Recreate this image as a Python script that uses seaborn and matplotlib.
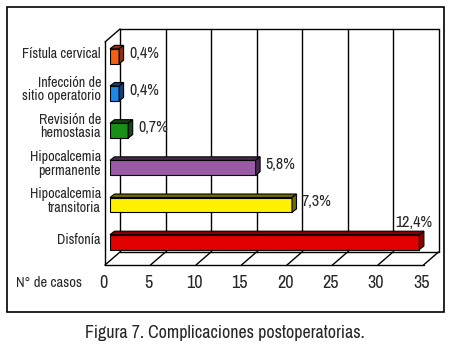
import matplotlib
matplotlib.use("Agg")
import matplotlib.pyplot as plt
import matplotlib.transforms as mtransforms
from matplotlib import font_manager
from matplotlib.patches import Polygon, Rectangle
from matplotlib.lines import Line2D
import seaborn as sns
import pandas as pd

categories = ["Fístula cervical", "Infección de\nsitio operatorio", "Revisión de\nhemostasia",
              "Hipocalcemia\npermanente", "Hipocalcemia\ntransitoria", "Disfonía"]
casos = [1, 1, 2, 16, 20, 34]
porcentajes = ["0,4%", "0,4%", "0,7%", "5,8%", "7,3%", "12,4%"]
ticks = [0, 5, 10, 15, 20, 25, 30, 35]
front_colors = ["#F06010", "#1E88E8", "#189018", "#9A5AA6", "#FFF000", "#E00000"]
dark_colors = ["#8A3010", "#10407A", "#0E4A0E", "#4A2A52", "#6E6A00", "#8A0000"]

sns.set_theme(style="white")
names = sorted({f.name for f in font_manager.fontManager.ttflist})
narrow = [n for n in names if ("Narrow" in n or "Condensed" in n)]
if narrow:
    FONT = [narrow[0], "Liberation Sans", "DejaVu Sans"]
    k = 1.0
else:
    FONT = ["Liberation Sans", "DejaVu Sans"]
    k = 0.8
plt.rcParams["font.family"] = FONT

W, H = 450, 354
fig = plt.figure(figsize=(W / 100, H / 100), dpi=100)
fig.patch.set_facecolor("white")

# axes = plane of the bar fronts
L, R, T, B = 110, 428.5, 37.7, 260.7
ax = fig.add_axes([L / W, (H - B) / H, (R - L) / W, (B - T) / H])
ax.patch.set_alpha(0)

df = pd.DataFrame({"cat": categories, "casos": casos})
sns.barplot(data=df, x="casos", y="cat", hue="cat", palette=front_colors, legend=False,
            orient="h", width=0.4, saturation=1, ax=ax, edgecolor="black", linewidth=0.8,
            zorder=5)
ax.set_xlim(0, 35)
ax.set_ylim(5.5, -0.5)
for s in ax.spines.values():
    s.set_visible(False)
ax.set_xlabel("")
ax.set_ylabel("")
ax.set_xticks([])
ax.set_yticks([])

back = mtransforms.offset_copy(ax.transData, fig=fig, x=10, y=8.7, units="dots")
front = mtransforms.offset_copy(ax.transData, fig=fig, x=-5, y=-4.3, units="dots")
lw = 1.0
y0, y1 = -0.5, 5.5


def line(xs, ys, tr, z=1):
    ax.add_line(Line2D(xs, ys, transform=tr, color="black", lw=lw, zorder=z, clip_on=False))


for t in ticks:
    line([t, t], [y0, y1], back)
line([0, 35], [y0, y0], back)
line([0, 35], [y1, y1], back)
line([0, 0], [y0, y1], front)
line([0, 35], [y1, y1], front)
for t in ticks:
    pb = back.transform((t, y1))
    pf = front.transform((t, y1))
    line([pb[0], pf[0]], [pb[1], pf[1]], None)
pb = back.transform((0, y0)); pf = front.transform((0, y0))
line([pb[0], pf[0]], [pb[1], pf[1]], None)

# 3D faces of bars
dx, dy = 4.5, 3.5
for patch, dc in zip(ax.patches, dark_colors):
    x0p, yb = patch.get_x(), patch.get_y()
    w, h = patch.get_width(), patch.get_height()
    ttop = ax.transData.transform((x0p, yb))
    ttopr = ax.transData.transform((x0p + w, yb))
    tbotr = ax.transData.transform((x0p + w, yb + h))
    top = [ttop, ttopr, ttopr + [dx, dy], ttop + [dx, dy]]
    side = [ttopr, tbotr, tbotr + [dx, dy], ttopr + [dx, dy]]
    for poly in (top, side):
        ax.add_patch(Polygon(poly, closed=True, transform=None, facecolor=dc,
                             edgecolor="black", lw=0.8, zorder=6, clip_on=False))

# percentage labels
for i, (v, p) in enumerate(zip(casos, porcentajes)):
    xp, yp = ax.transData.transform((v, i))
    if i == len(casos) - 1:
        ax.text(xp - 6, yp + 20, p, transform=None, fontsize=11.5 * k, ha="center",
                va="center", family=FONT, zorder=7)
    else:
        ax.text(xp + 10, yp + 3, p, transform=None, fontsize=11.5 * k, ha="left",
                va="center", family=FONT, zorder=7)

# category labels
for i, c in enumerate(categories):
    xp, yp = ax.transData.transform((0, i))
    ax.text(101, yp + 4 if "\n" in c else yp + 2, c, transform=None, fontsize=10.2 * k,
            ha="right", va="center", linespacing=0.95, family=FONT)

# tick labels
for t in ticks:
    xp, _ = ax.transData.transform((t, 0))
    ax.text(xp - 7, H - 283, str(t), transform=None, fontsize=13 * k, ha="center",
            va="center", family=FONT)
ax.text(49, H - 283, "N° de casos", transform=None, fontsize=10.5 * k, ha="center",
        va="center", family=FONT)

fig.patches.append(Rectangle((7 / W, (H - 312) / H), 437 / W, 305 / H, transform=fig.transFigure,
                             fill=False, edgecolor="black", lw=1.2))
fig.text(225 / W, (H - 333) / H, "Figura 7. Complicaciones postoperatorias.",
         fontsize=12.9 * k, ha="center", va="center", family=FONT)

fig.savefig("out.png", dpi=100)
